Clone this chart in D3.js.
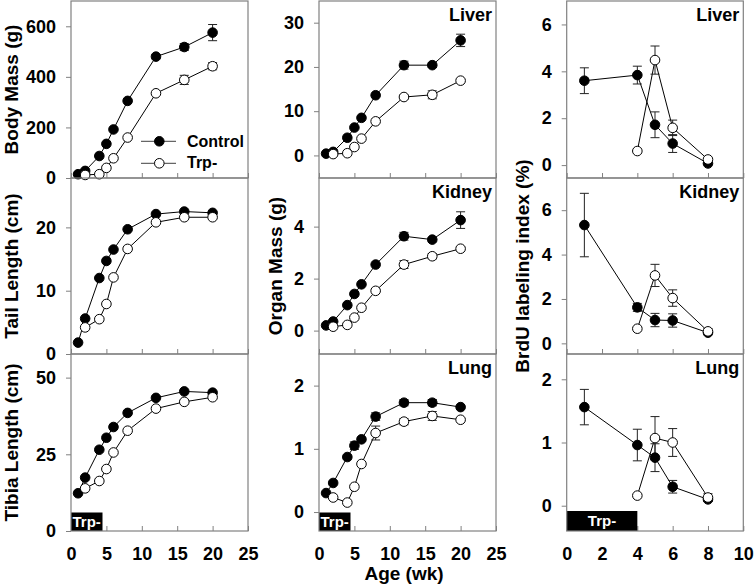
<!DOCTYPE html>
<html><head><meta charset="utf-8">
<script src="https://cdn.jsdelivr.net/npm/d3@7"></script>
<style>
body{margin:0;background:#fff;}
svg{display:block;font-family:"Liberation Sans",Arial,Helvetica,sans-serif;}
</style></head>
<body>
<svg id="chart" width="754" height="585"></svg>
<script>
// ---------- data ----------
const ageCtrl = [1, 2, 4, 5, 6, 8, 12, 16, 20];
const ageTrp = [2, 4, 5, 6, 8, 12, 16, 20];
const brduAgeCtrl = [1, 4, 5, 6, 8];
const brduAgeTrp = [4, 5, 6, 8];

const bodyMassCtrl = [15, 28, 87, 135, 192, 305, 480, 518, 575];
const bodyMassCtrlErr = [0, 0, 0, 0, 0, 0, 8, 14, 32];
const bodyMassTrp = [12, 15, 40, 78, 160, 335, 388, 442];
const bodyMassTrpErr = [0, 0, 0, 0, 0, 0, 18, 14];

const tailCtrl = [1.8, 5.6, 12.0, 14.7, 16.5, 19.7, 22.1, 22.5, 22.3];
const tailTrp = [4.2, 5.5, 7.9, 12.1, 16.6, 20.8, 21.6, 21.6];

const tibiaCtrl = [12.3, 17.4, 26.5, 30.4, 33.9, 38.5, 43.4, 45.5, 45.1];
const tibiaTrp = [13.9, 16.3, 20.2, 25.6, 32.7, 39.9, 42.1, 43.6];

const liverCtrl = [0.4, 0.8, 4.0, 6.3, 8.5, 13.6, 20.4, 20.4, 26.0];
const liverCtrlErr = [0, 0, 0, 0, 0, 0, 0.9, 0.5, 1.4];
const liverTrp = [0.3, 0.5, 1.9, 3.8, 7.7, 13.2, 13.7, 16.9];
const liverTrpErr = [0, 0, 0, 0, 0, 0.4, 0.9, 0.3];

const kidneyCtrl = [0.2, 0.35, 0.98, 1.41, 1.78, 2.54, 3.63, 3.5, 4.25];
const kidneyCtrlErr = [0, 0, 0, 0, 0, 0, 0.15, 0.08, 0.32];
const kidneyTrp = [0.15, 0.22, 0.5, 0.88, 1.53, 2.54, 2.86, 3.15];
const kidneyTrpErr = [0, 0, 0, 0, 0, 0.15, 0.1, 0.08];

const lungCtrl = [0.30, 0.46, 0.87, 1.05, 1.15, 1.51, 1.73, 1.73, 1.66];
const lungCtrlErr = [0, 0, 0.03, 0.06, 0.03, 0.06, 0.05, 0.05, 0.02];
const lungTrp = [0.23, 0.15, 0.40, 0.76, 1.25, 1.43, 1.52, 1.46];
const lungTrpErr = [0, 0, 0, 0, 0.11, 0.05, 0.07, 0.02];

const brduLiverCtrl = [3.6, 3.84, 1.72, 0.92, 0.07];
const brduLiverCtrlErr = [0.55, 0.38, 0.55, 0.38, 0.05];
const brduLiverTrp = [0.6, 4.48, 1.59, 0.24];
const brduLiverTrpErr = [0.03, 0.6, 0.33, 0.08];

const brduKidneyCtrl = [5.33, 1.62, 1.05, 1.03, 0.48];
const brduKidneyCtrlErr = [1.43, 0.18, 0.3, 0.3, 0.05];
const brduKidneyTrp = [0.66, 3.06, 2.04, 0.54];
const brduKidneyTrpErr = [0.05, 0.5, 0.37, 0.12];

const brduLungCtrl = [1.56, 0.96, 0.76, 0.30, 0.10];
const brduLungCtrlErr = [0.28, 0.25, 0.22, 0.1, 0.03];
const brduLungTrp = [0.16, 1.07, 1.00, 0.13];
const brduLungTrpErr = [0.02, 0.34, 0.22, 0.06];

const xTicksAge = [0, 5, 10, 15, 20, 25];
const xTicksBrdu = [0, 2, 4, 6, 8, 10];
const legendLabels = ["Control", "Trp-"];
const organLabels = ["Liver", "Kidney", "Lung"];

// ---------- layout ----------
const colX = [[71, 248], [319, 496], [566.7, 743.3]];
const rowY = [[1, 178], [178, 354], [354, 531]];
const grey = "#808080";
const svg = d3.select("#chart");

function s(ctrlX, ctrl, ctrlErr, trpX, trp, trpErr) {
  return {ctrlX, ctrl, ctrlErr: ctrlErr || ctrl.map(() => 0), trpX, trp, trpErr: trpErr || trp.map(() => 0)};
}

const panels = [
  {col: 0, row: 0, xd: [0, 25], xt: xTicksAge, yd: [0, 700], yt: [0, 200, 400, 600], d: s(ageCtrl, bodyMassCtrl, bodyMassCtrlErr, ageTrp, bodyMassTrp, bodyMassTrpErr)},
  {col: 0, row: 1, xd: [0, 25], xt: xTicksAge, yd: [0, 27.8], yt: [0, 10, 20], d: s(ageCtrl, tailCtrl, null, ageTrp, tailTrp, null)},
  {col: 0, row: 2, xd: [0, 25], xt: xTicksAge, yd: [0, 57.7], yt: [0, 25, 50], d: s(ageCtrl, tibiaCtrl, null, ageTrp, tibiaTrp, null), bar: "text"},
  {col: 1, row: 0, xd: [0, 25], xt: xTicksAge, yd: [-5.1, 34.9], yt: [0, 10, 20, 30], d: s(ageCtrl, liverCtrl, liverCtrlErr, ageTrp, liverTrp, liverTrpErr), label: organLabels[0]},
  {col: 1, row: 1, xd: [0, 25], xt: xTicksAge, yd: [-0.9, 5.87], yt: [0, 2, 4], d: s(ageCtrl, kidneyCtrl, kidneyCtrlErr, ageTrp, kidneyTrp, kidneyTrpErr), label: organLabels[1]},
  {col: 1, row: 2, xd: [0, 25], xt: xTicksAge, yd: [-0.3, 2.5], yt: [0, 1, 2], d: s(ageCtrl, lungCtrl, lungCtrlErr, ageTrp, lungTrp, lungTrpErr), label: organLabels[2], bar: "text"},
  {col: 2, row: 0, xd: [0, 10], xt: xTicksBrdu, yd: [-0.55, 7.0], yt: [0, 2, 4, 6], d: s(brduAgeCtrl, brduLiverCtrl, brduLiverCtrlErr, brduAgeTrp, brduLiverTrp, brduLiverTrpErr), label: organLabels[0]},
  {col: 2, row: 1, xd: [0, 10], xt: xTicksBrdu, yd: [-0.48, 7.45], yt: [0, 2, 4, 6], d: s(brduAgeCtrl, brduKidneyCtrl, brduKidneyCtrlErr, brduAgeTrp, brduKidneyTrp, brduKidneyTrpErr), label: organLabels[1]},
  {col: 2, row: 2, xd: [0, 10], xt: xTicksBrdu, yd: [-0.4, 2.4], yt: [0, 1, 2], d: s(brduAgeCtrl, brduLungCtrl, brduLungCtrlErr, brduAgeTrp, brduLungTrp, brduLungTrpErr), label: organLabels[2], bar: "data"}
];

panels.forEach(p => {
  const [x0, x1] = colX[p.col];
  const [y0, y1] = rowY[p.row];
  const x = d3.scaleLinear().domain(p.xd).range([x0, x1]);
  const y = d3.scaleLinear().domain(p.yd).range([y1, y0]);
  const g = svg.append("g");

  // y axis
  const ya = g.append("g").attr("transform", `translate(${x0},0)`)
    .call(d3.axisLeft(y).tickValues(p.yt).tickSize(5).tickPadding(10).tickFormat(d3.format("d")));
  ya.select(".domain").remove();
  ya.selectAll("line").attr("stroke", grey);
  ya.selectAll("text").attr("font-size", 18).attr("font-weight", "bold").attr("fill", "#000")
    .attr("font-family", "Liberation Sans, Arial, sans-serif");

  // x axis (inward ticks)
  const xa = g.append("g").attr("transform", `translate(0,${y1})`)
    .call(d3.axisBottom(x).tickValues(p.xt).tickSize(-5).tickPadding(16)
      .tickFormat(p.row === 2 ? d3.format("d") : () => ""));
  xa.select(".domain").remove();
  xa.selectAll("line").attr("stroke", grey);
  xa.selectAll("text").attr("font-size", 18).attr("font-weight", "bold").attr("fill", "#000")
    .attr("font-family", "Liberation Sans, Arial, sans-serif");

  // Trp- bar
  if (p.bar === "text") {
    g.append("rect").attr("x", x0).attr("y", y1 - 18.5).attr("width", 31.5).attr("height", 18.5).attr("fill", "#000");
    g.append("text").attr("x", x0 + 1.5).attr("y", y1 - 4).attr("fill", "#fff")
      .attr("font-size", 15).attr("font-weight", "bold").text(legendLabels[1]);
  } else if (p.bar === "data") {
    g.append("rect").attr("x", x(0)).attr("y", y1 - 20).attr("width", x(4) - x(0)).attr("height", 20).attr("fill", "#000");
    g.append("text").attr("x", (x(0) + x(4)) / 2).attr("y", y1 - 5.5).attr("fill", "#fff").attr("text-anchor", "middle")
      .attr("font-size", 15).attr("font-weight", "bold").text(legendLabels[1]);
  }

  // border
  g.append("rect").attr("x", x0).attr("y", y0).attr("width", x1 - x0).attr("height", y1 - y0)
    .attr("fill", "none").attr("stroke", grey).attr("stroke-width", 1.2);

  const line = d3.line().x(d => x(d[0])).y(d => y(d[1]));
  const series = [
    {xs: p.d.ctrlX, ys: p.d.ctrl, es: p.d.ctrlErr, fill: "#000"},
    {xs: p.d.trpX, ys: p.d.trp, es: p.d.trpErr, fill: "#fff"}
  ];
  series.forEach(sr => {
    g.append("path").datum(sr.xs.map((v, i) => [v, sr.ys[i]]))
      .attr("d", line).attr("fill", "none").attr("stroke", "#000").attr("stroke-width", 1);
  });
  series.forEach(sr => {
    sr.xs.forEach((v, i) => {
      const e = sr.es[i];
      if (!e) return;
      const cx = x(v), yt = y(sr.ys[i] + e), yb = y(sr.ys[i] - e);
      g.append("line").attr("x1", cx).attr("x2", cx).attr("y1", yt).attr("y2", yb).attr("stroke", "#222").attr("stroke-width", 1);
      [yt, yb].forEach(yy => g.append("line").attr("x1", cx - 4.5).attr("x2", cx + 4.5).attr("y1", yy).attr("y2", yy)
        .attr("stroke", "#222").attr("stroke-width", 1));
    });
  });
  series.forEach(sr => {
    g.selectAll(null).data(sr.xs.map((v, i) => [v, sr.ys[i]])).enter().append("circle")
      .attr("cx", d => x(d[0])).attr("cy", d => y(d[1])).attr("r", 4.8)
      .attr("fill", sr.fill).attr("stroke", "#000").attr("stroke-width", 1);
  });

  if (p.label) {
    g.append("text").attr("x", x1 - 4).attr("y", y0 + 20).attr("text-anchor", "end")
      .attr("font-size", 18).attr("font-weight", "bold").text(p.label);
  }
});

// legend (first panel)
const lg = svg.append("g");
[[141.3, legendLabels[0], "#000", 146.7], [163.3, legendLabels[1], "#fff", 168.3]].forEach(([yy, t, f, by]) => {
  lg.append("line").attr("x1", 141).attr("x2", 176).attr("y1", yy).attr("y2", yy).attr("stroke", "#666").attr("stroke-width", 1.2);
  lg.append("circle").attr("cx", 159.3).attr("cy", yy).attr("r", 4.8).attr("fill", f).attr("stroke", "#000");
  lg.append("text").attr("x", 187).attr("y", by).attr("font-size", 16).attr("font-weight", "bold").text(t);
});

// axis titles
const titles = [
  ["Body Mass (g)", 17.5, 89.5],
  ["Tail Length (cm)", 17.5, 266],
  ["Tibia Length (cm)", 17.5, 442.5],
  ["Organ Mass (g)", 282, 266],
  ["BrdU labeling index (%)", 529, 266]
];
titles.forEach(([t, tx, ty]) => {
  svg.append("text").attr("transform", `translate(${tx},${ty}) rotate(-90)`)
    .attr("text-anchor", "middle").attr("font-size", 19).attr("font-weight", "bold").text(t);
});
svg.append("text").attr("x", 404).attr("y", 579.5).attr("text-anchor", "middle")
  .attr("font-size", 19).attr("font-weight", "bold").text("Age (wk)");
</script>
</body></html>
